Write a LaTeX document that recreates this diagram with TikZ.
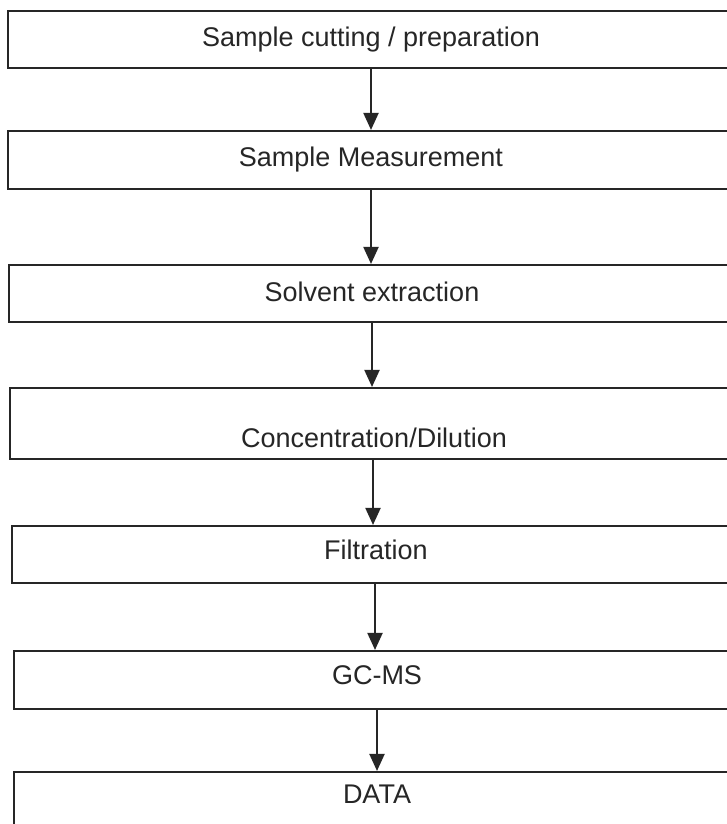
\documentclass[tikz,border=0pt]{standalone}
\usepackage{fontspec}
\setmainfont{Liberation Sans}
\usetikzlibrary{arrows.meta,calc}
\definecolor{ink}{HTML}{262626}
\begin{document}
\begin{tikzpicture}[x=1pt,y=-1pt,
  stepbox/.style={draw=ink,line width=2.1pt,rectangle,inner sep=0pt,minimum width=726pt},
  lbl/.style={anchor=base,inner sep=0pt,text=ink,font=\fontsize{27}{30}\selectfont},
  arr/.style={draw=ink,line width=2pt,-{Triangle[width=15pt,length=17pt]}}]
\useasboundingbox[fill=white] (0,0) rectangle (727,824);
\node[stepbox,minimum height=57pt] (b1) at (371,39.5) {};
\node[stepbox,minimum height=58pt] (b2) at (371,160) {};
\node[stepbox,minimum height=57pt] (b3) at (372,293.5) {};
\node[stepbox,minimum height=71pt] (b4) at (373,423.5) {};
\node[stepbox,minimum height=57pt] (b5) at (375,554.5) {};
\node[stepbox,minimum height=58pt] (b6) at (377,680) {};
\node[stepbox,minimum height=58pt] (b7) at (377,801) {};
\node[lbl] (t1) at (371,46.5) {Sample cutting / preparation};
\node[lbl] (t2) at (371,166.5) {Sample Measurement};
\node[lbl] (t3) at (372,301.5) {Solvent extraction};
\node[lbl] (t4) at (374,447) {Concentration/Dilution};
\node[lbl] (t5) at (376,559.5) {Filtration};
\node[lbl] (t6) at (377,684.5) {GC-MS};
\node[lbl] (t7) at (377,803) {DATA};
\draw[arr] (b1.south) -- (b1.south |- b2.north);
\draw[arr] (b2.south) -- (b2.south |- b3.north);
\draw[arr] (b3.south) -- (b3.south |- b4.north);
\draw[arr] (b4.south) -- (b4.south |- b5.north);
\draw[arr] (b5.south) -- (b5.south |- b6.north);
\draw[arr] (b6.south) -- (b6.south |- b7.north);
\end{tikzpicture}
\end{document}
